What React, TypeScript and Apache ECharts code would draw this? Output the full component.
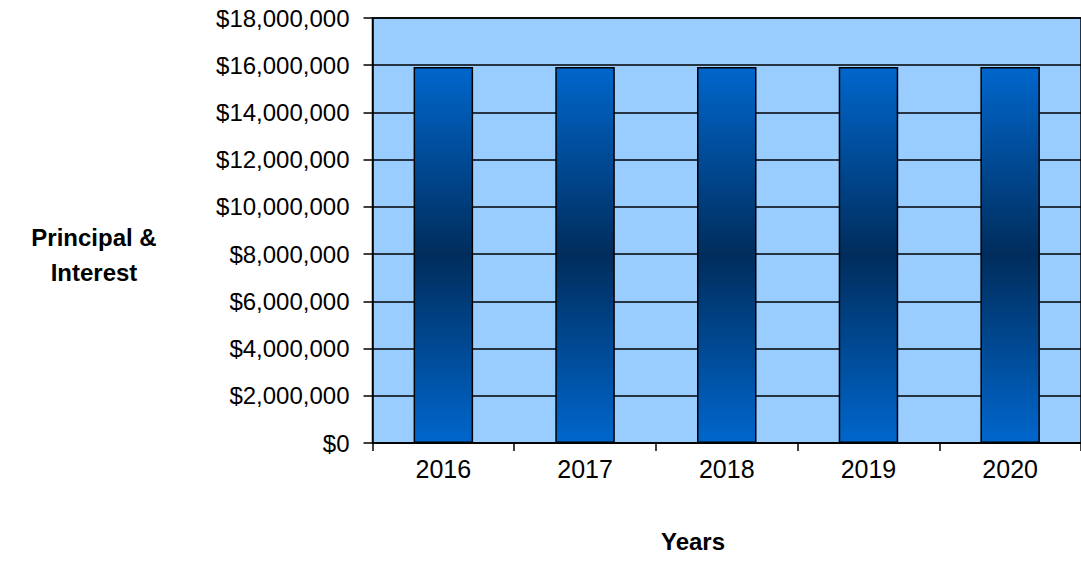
import React, { useEffect, useRef } from "react";
import * as echarts from "echarts";

const categories = ["2016", "2017", "2018", "2019", "2020"];
const principalInterest = [15930000, 15930000, 15930000, 15930000, 15930000];
const yMin = 0;
const yMax = 18000000;
const yInterval = 2000000;

export default function App() {
  const ref = useRef<HTMLDivElement>(null);
  useEffect(() => {
    if (!ref.current) return;
    const chart = echarts.init(ref.current, null, { renderer: "svg" });
    const font = "'Liberation Sans', Arial, sans-serif";
    chart.setOption({
      animation: false,
      backgroundColor: "#ffffff",
      grid: {
        left: 372.5,
        top: 18,
        width: 716,
        height: 425,
        show: true,
        backgroundColor: "#99CCFF",
        borderColor: "#000000",
        borderWidth: 1.5,
      },
      xAxis: {
        type: "category",
        data: categories,
        boundaryGap: true,
        axisLine: { show: true, lineStyle: { color: "#000", width: 1.5 } },
        axisTick: { show: true, length: 8, inside: false, alignWithLabel: false, lineStyle: { color: "#000", width: 1.5 } },
        axisLabel: { color: "#000", fontFamily: font, fontSize: 25, margin: 13 },
        splitLine: { show: false },
      },
      yAxis: {
        type: "value",
        min: yMin,
        max: yMax,
        interval: yInterval,
        axisLine: { show: true, lineStyle: { color: "#000", width: 1.5 } },
        axisTick: { show: true, length: 9, inside: false, lineStyle: { color: "#000", width: 1.5 } },
        axisLabel: {
          color: "#000",
          fontFamily: font,
          fontSize: 24,
          margin: 23,
          formatter: (v: number) => "$" + v.toLocaleString("en-US"),
        },
        splitLine: { show: true, lineStyle: { color: "#000", width: 1.5 } },
      },
      series: [
        {
          type: "bar",
          data: principalInterest,
          barCategoryGap: "58%",
          itemStyle: {
            borderColor: "#000",
            borderWidth: 1.5,
            color: new echarts.graphic.LinearGradient(0, 0, 0, 1, [
              { offset: 0, color: "#0066CC" },
              { offset: 0.5, color: "#002D5C" },
              { offset: 1, color: "#0066CC" },
            ]),
          },
        },
      ],
      graphic: [
        {
          type: "text",
          x: 94,
          y: 255,
          style: {
            text: "Principal &\nInterest",
            fontFamily: font,
            fontWeight: "bold",
            fontSize: 24,
            lineHeight: 35,
            align: "center",
            verticalAlign: "middle",
            fill: "#000",
          },
        },
        {
          type: "text",
          x: 693,
          y: 541,
          style: {
            text: "Years",
            fontFamily: font,
            fontWeight: "bold",
            fontSize: 24,
            align: "center",
            verticalAlign: "middle",
            fill: "#000",
          },
        },
      ],
    });
    return () => chart.dispose();
  }, []);
  return (
    <div
      ref={ref}
      style={{ position: "absolute", left: 0, top: 0, width: 1081, height: 583 }}
    />
  );
}
